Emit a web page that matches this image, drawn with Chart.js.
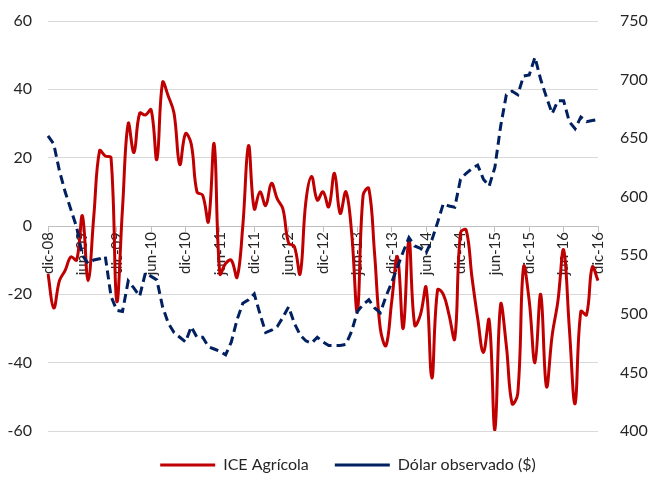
<!DOCTYPE html>
<html>
<head>
<meta charset="utf-8">
<script src="https://cdn.jsdelivr.net/npm/chart.js@4.4.0/dist/chart.umd.min.js"></script>
<style>
  html, body { margin: 0; padding: 0; background: #ffffff; }
  #wrap { width: 652px; height: 485px; }
</style>
</head>
<body>
<div id="wrap"><canvas id="myLineGraph" width="652" height="485"></canvas></div>
<script>
// month names used to build the monthly categories (dic-08 .. dic-16)
var monthNames = ['ene','feb','mar','abr','may','jun','jul','ago','sep','oct','nov','dic'];
var categories = [];
for (var k = 0; k <= 96; k++) {
    var m = (11 + k) % 12;
    var yr = 8 + Math.floor((11 + k) / 12);
    categories.push(monthNames[m] + '-' + (yr < 10 ? '0' + yr : '' + yr));
}

// ICE Agricola (left axis)
var iceAgricola = [
    -14, -24, -16, -13, -9, -10, 3, -16, 3, 22, 20.5, 20,
    -22, 5, 30, 21.5, 33, 32.5, 34, 19.5, 42, 38, 33, 18,
    27, 24, 10, 9, 1.3, 24, -14, -11, -10, -15, 0, 23.5,
    5, 10, 6, 12.5, 8, 5, -5, -6, -14, 7, 14.5, 7.6,
    10, 5.6, 15.4, 3.7, 10, -2, -25, 9, 11, -8, -30, -35,
    -22, -9, -30, -4, -29, -26, -18, -44.5, -18.7, -20, -26, -33,
    -2, -1.2, -15, -27, -37, -27.5, -59.7, -23, -35, -52, -49, -12,
    -22, -40, -20, -47, -32, -22, -7, -30, -52, -25, -26, -12,
    -16
];

// Dolar observado (right axis)
var dolarObservado = [
    652, 645, 622, 604, 589, 574, 550, 543, 546, 547, 549, 515,
    503, 502, 528, 522, 515, 535, 532, 529, 506, 492, 484, 480,
    476, 489, 480, 480, 472, 470, 468, 465, 476, 495, 509, 512,
    517, 500, 484, 486, 489, 497, 506, 492, 482, 477, 475, 480,
    476, 473, 473, 473, 474, 485, 502, 508, 512, 505, 501, 515,
    527, 540, 553, 565, 558, 556, 552, 563, 578, 594, 592, 591,
    615, 620, 624, 627, 615, 609, 625, 660, 687, 690, 687, 703,
    704, 719, 700, 685, 671, 682, 682, 664, 658, 668, 664, 665,
    666
];

var leftTicks = [-60, -40, -20, 0, 20, 40, 60];
var rightTicks = [400, 450, 500, 550, 600, 650, 700, 750];

Chart.defaults.font.family = 'Lato, "Open Sans", sans-serif';
Chart.defaults.color = '#262626';

var graphID = document.getElementById("myLineGraph").getContext("2d");

// nudge the legend a bit to the right, like the original
var legendShift = {
    id: 'legendShift',
    afterLayout: function(chart) {
        chart.legend.left += 22;
        chart.legend.right += 22;
    }
};

// fixed axis widths; keep the label padding from pushing the plot down
function fixWidth(w) {
    return function(scale) {
        scale.width = w;
        scale.paddingTop = 10;
        scale.paddingBottom = 10;
    };
}

var graphConfig = {
    type: 'line',
    data: {
        labels: categories,
        datasets: [{
            label: 'ICE Agrícola',
            data: iceAgricola,
            yAxisID: 'y',
            borderColor: '#C00000',
            backgroundColor: '#C00000',
            borderWidth: 3,
            tension: 0.4,
            pointRadius: 0,
            order: 1
        }, {
            label: 'Dólar observado ($)',
            data: dolarObservado,
            yAxisID: 'y1',
            borderColor: '#002060',
            backgroundColor: '#002060',
            borderWidth: 3,
            borderDash: [9, 5],
            tension: 0,
            pointRadius: 0,
            order: 0
        }]
    },
    options: {
        responsive: false,
        animation: false,
        devicePixelRatio: 1,
        layout: { padding: { left: 0, right: 0, top: 21, bottom: 2 } },
        plugins: {
            tooltip: { enabled: false },
            legend: {
                position: 'bottom',
                labels: {
                    usePointStyle: true,
                    pointStyle: 'line',
                    pointStyleWidth: 55,
                    boxWidth: 55,
                    boxHeight: 3,
                    padding: 26,
                    font: { size: 16 },
                    color: '#262626',
                    sort: function(a, b) { return a.datasetIndex - b.datasetIndex; }
                }
            }
        },
        scales: {
            x: {
                type: 'category',
                position: { y: 0 },
                offset: false,
                grid: { drawOnChartArea: false, drawTicks: true, tickLength: 5, color: '#bfbfbf' },
                border: { display: true, color: '#bfbfbf' },
                ticks: {
                    autoSkip: false,
                    maxRotation: 90,
                    minRotation: 90,
                    padding: 1,
                    font: { size: 15 },
                    callback: function(val, index) {
                        return index % 6 === 0 ? categories[index] : null;
                    }
                }
            },
            y: {
                position: 'left',
                min: -60,
                max: 60,
                afterBuildTicks: function(scale) {
                    scale.ticks = leftTicks.map(function(v) { return { value: v }; });
                },
                afterFit: fixWidth(48),
                grid: { color: '#d9d9d9', drawTicks: false, lineWidth: 1 },
                border: { display: false },
                ticks: { padding: 16, font: { size: 16 } }
            },
            y1: {
                position: 'right',
                min: 400,
                max: 750,
                afterBuildTicks: function(scale) {
                    scale.ticks = rightTicks.map(function(v) { return { value: v }; });
                },
                afterFit: fixWidth(54),
                grid: { drawOnChartArea: false, drawTicks: false },
                border: { display: false },
                ticks: { padding: 22, font: { size: 16 } }
            }
        }
    },
    plugins: [legendShift]
};

var myChart = new Chart(graphID, graphConfig);
</script>
</body>
</html>
